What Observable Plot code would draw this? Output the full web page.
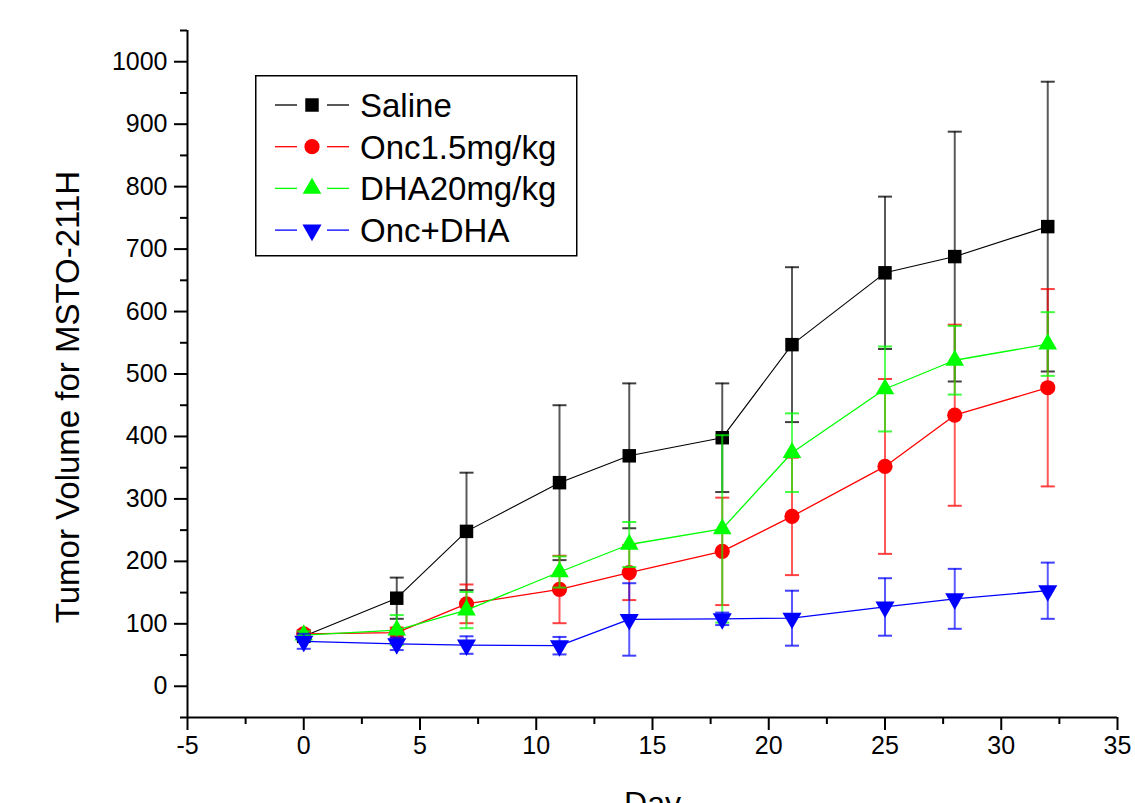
<!DOCTYPE html>
<html>
<head>
<meta charset="utf-8">
<script src="https://cdn.jsdelivr.net/npm/d3@7"></script>
<script src="https://cdn.jsdelivr.net/npm/@observablehq/plot@0.6"></script>
<style>
  html, body { margin: 0; padding: 0; background: #fff; }
  #wrap { position: relative; width: 1135px; height: 803px; overflow: hidden; }
  #legend { position: absolute; left: 255px; top: 75px; }
</style>
</head>
<body>
<div id="wrap"><div id="chart"></div><div id="legend"></div></div>
<script>
// ---- data ----
const days = [0, 4, 7, 11, 14, 18, 21, 25, 28, 32];
const seriesNames = ["Saline", "Onc1.5mg/kg", "DHA20mg/kg", "Onc+DHA"];
const salineMean = [80, 141, 248, 326, 369, 398, 547, 662, 688, 736];
const salineErr  = [8, 33, 94, 124, 116, 87, 124, 122, 200, 232];
const oncMean    = [84, 86, 132, 155, 182, 216, 272, 352, 434, 478];
const oncErr     = [6, 8, 31, 54, 44, 86, 94, 140, 145, 158];
const dhaMean    = [82, 90, 122, 183, 227, 252, 374, 476, 522, 548];
const dhaErr     = [6, 24, 29, 25, 36, 150, 63, 68, 55, 51];
const comboMean  = [72, 68, 66, 65, 107, 108, 109, 127, 140, 153];
const comboErr   = [12, 10, 14, 14, 58, 10, 44, 46, 48, 45];
const xTicks = [-5, 0, 5, 10, 15, 20, 25, 30, 35];
const yTicks = [0, 100, 200, 300, 400, 500, 600, 700, 800, 900, 1000];
const xDomain = [-5, 35];
const yDomain = [-50, 1050];

// ---- styling ----
const colors  = ["#000000", "#ff0000", "#00ff00", "#0000ff"];
const symbols = ["square", "circle", "triangle", "triangle"];
const rotates = [0, 0, 0, 180];
const radii   = [7.6, 7.6, 6.9, 7.1];
const lineW   = [1.1, 1.3, 1.3, 1.3];
const FONT = "'Liberation Sans', Arial, Helvetica, sans-serif";

const means = [salineMean, oncMean, dhaMean, comboMean];
const errs  = [salineErr, oncErr, dhaErr, comboErr];
const series = seriesNames.map((name, i) => ({
  name, color: colors[i], symbol: symbols[i], rotate: rotates[i], r: radii[i], lw: lineW[i],
  data: days.map((d, j) => ({day: d, v: means[i][j], e: errs[i][j]}))
}));

// horizontal cap symbol for error bars
const capSymbol = {
  draw(context, size) {
    const w = Math.sqrt(size / Math.PI);
    context.moveTo(-w, 0);
    context.lineTo(w, 0);
  }
};

const xMinor = d3.range(xDomain[0] + 2.5, xDomain[1], 5);
const yMinor = d3.range(yDomain[0], yDomain[1] + 1, 100);

const marks = [
  Plot.axisY(yMinor, {tickSize: 7, strokeWidth: 2, tickFormat: () => "", label: null}),
  Plot.axisY(yTicks, {tickSize: 13, strokeWidth: 2, tickPadding: 7, fontSize: 25, tickFormat: d => String(d), label: null}),
  Plot.axisX(xMinor, {tickSize: 7, strokeWidth: 2, tickFormat: () => "", label: null}),
  Plot.axisX(xTicks, {tickSize: 13, strokeWidth: 2, tickPadding: 6, fontSize: 25, tickFormat: d => String(d), label: null}),
  Plot.ruleX([xDomain[0]], {stroke: "#000", strokeWidth: 2}),
  Plot.ruleY([yDomain[0]], {stroke: "#000", strokeWidth: 2}),
  Plot.text(["Tumor Volume for MSTO-211H"], {frameAnchor: "left", textAnchor: "middle", lineAnchor: "middle", rotate: -90, dx: -119, dy: 23, fontSize: 33, fill: "#000"}),
  Plot.text(["Day"], {frameAnchor: "bottom", textAnchor: "middle", lineAnchor: "middle", dy: 86, fontSize: 32, fill: "#000"})
];

for (const s of series) {
  marks.push(
    Plot.ruleX(s.data, {x: "day", y1: d => d.v - d.e, y2: d => d.v + d.e, stroke: s.color, strokeWidth: 2, strokeOpacity: 0.65}),
    Plot.dot(s.data, {x: "day", y: d => d.v + d.e, symbol: capSymbol, r: 7, stroke: s.color, strokeWidth: 2, strokeOpacity: 0.75, fill: "none"}),
    Plot.dot(s.data, {x: "day", y: d => d.v - d.e, symbol: capSymbol, r: 7, stroke: s.color, strokeWidth: 2, strokeOpacity: 0.75, fill: "none"}),
    Plot.line(s.data, {x: "day", y: "v", stroke: s.color, strokeWidth: s.lw}),
    Plot.dot(s.data, {x: "day", y: "v", symbol: s.symbol, rotate: s.rotate, r: s.r, fill: s.color, stroke: "none"})
  );
}

const chart = Plot.plot({
  width: 1135,
  height: 803,
  marginLeft: 187,
  marginRight: 18,
  marginTop: 30,
  marginBottom: 86,
  x: {domain: xDomain},
  y: {domain: yDomain},
  style: {fontFamily: FONT, fontSize: "25px", background: "#fff", color: "#000", overflow: "visible"},
  marks
});
document.getElementById("chart").appendChild(chart);

// ---- legend ----
const lg = d3.select("#legend").append("svg")
  .attr("width", 323).attr("height", 182)
  .style("font-family", FONT);
lg.append("rect").attr("x", 0.75).attr("y", 0.75).attr("width", 321).attr("height", 180)
  .attr("fill", "#fff").attr("stroke", "#000").attr("stroke-width", 1.5);
const rowY = i => 30 + i * 41.7;
series.forEach((s, i) => {
  const g = lg.append("g").attr("transform", `translate(0,${rowY(i)})`);
  g.append("line").attr("x1", 20).attr("x2", 42).attr("y1", 0).attr("y2", 0).attr("stroke", s.color).attr("stroke-width", 1.3);
  g.append("line").attr("x1", 72).attr("x2", 94).attr("y1", 0).attr("y2", 0).attr("stroke", s.color).attr("stroke-width", 1.3);
  const symType = {square: d3.symbolSquare, circle: d3.symbolCircle, triangle: d3.symbolTriangle}[s.symbol];
  g.append("path").attr("d", d3.symbol(symType, Math.PI * s.r * s.r)())
    .attr("transform", `translate(57,0) rotate(${s.rotate})`).attr("fill", s.color);
  g.append("text").attr("x", 105).attr("y", 0).attr("dy", "0.36em")
    .attr("font-size", 33).attr("fill", "#000").text(s.name);
});
</script>
</body>
</html>
